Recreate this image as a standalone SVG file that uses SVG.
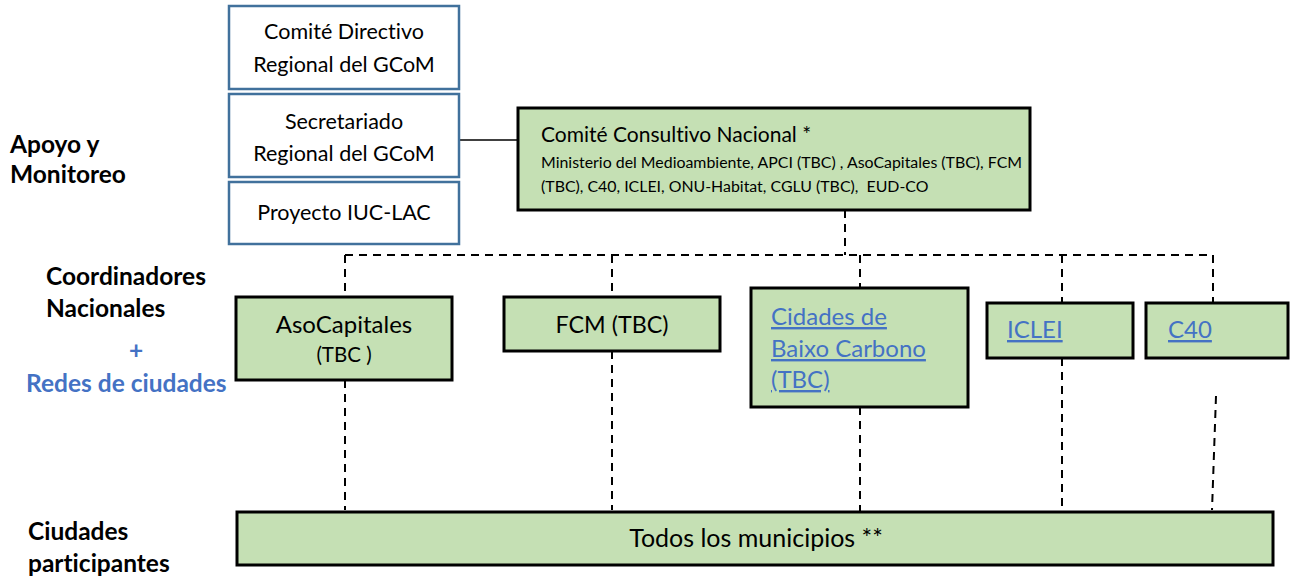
<svg xmlns="http://www.w3.org/2000/svg" width="1292" height="580" viewBox="0 0 1292 580">
<style>
text{font-family:Lato,"Noto Sans",sans-serif;fill:#000;font-variant-ligatures:none}
.lbl{font-weight:bold;font-size:24.5px}
.blue{fill:#4472C4}
.wb{fill:#fff;stroke:#41719C;stroke-width:2.5}
.gb{fill:#C5E0B4;stroke:#000;stroke-width:3}
.t18{font-size:21.5px}
.lnk{fill:#4472C4;text-decoration:underline;font-size:24px}
.dash{fill:none;stroke:#000;stroke-width:2;stroke-dasharray:8 6}
</style>
<rect width="1292" height="580" fill="#fff"/>
<g id="labels">
<text class="lbl" x="10" y="153">Apoyo y</text>
<text class="lbl" x="10" y="183">Monitoreo</text>
<text class="lbl" x="46" y="285">Coordinadores</text>
<text class="lbl" x="46" y="317">Nacionales</text>
<text class="lbl blue" x="136" y="359" text-anchor="middle">+</text>
<text class="lbl blue" x="26" y="392">Redes de ciudades</text>
<text class="lbl" x="28" y="540">Ciudades</text>
<text class="lbl" x="28" y="572">participantes</text>
</g>
<g id="connectors">
<line x1="459" y1="140" x2="518" y2="140" stroke="#000" stroke-width="1.5"/>
<path class="dash" d="M845 210V255"/>
<path class="dash" d="M345 255H1213"/>
<path class="dash" d="M345 255V297M612 255V297M860 255V288M1062 255V303M1213 255V303"/>
<path class="dash" d="M345 380V510M612 351V510M860 407V512M1062 358V515M1216 396L1212 510"/>
</g>
<g id="n-directivo">
<rect class="wb" x="229" y="6" width="230" height="83"/>
<text class="t18" x="344" y="39" text-anchor="middle">Comité Directivo</text>
<text class="t18" x="344" y="72" text-anchor="middle">Regional del GCoM</text>
</g>
<g id="n-secretariado">
<rect class="wb" x="229" y="94" width="230" height="83"/>
<text class="t18" x="344" y="129" text-anchor="middle">Secretariado</text>
<text class="t18" x="344" y="161" text-anchor="middle">Regional del GCoM</text>
</g>
<g id="n-iuc">
<rect class="wb" x="229" y="182" width="230" height="62"/>
<text class="t18" x="344" y="220" text-anchor="middle">Proyecto IUC-LAC</text>
</g>
<g id="n-consultivo">
<rect class="gb" x="518" y="108" width="512" height="102"/>
<text x="541" y="142" font-size="21">Comité Consultivo Nacional *</text>
<text x="541" y="168" font-size="15.9">Ministerio del Medioambiente, APCI (TBC) , AsoCapitales (TBC), FCM</text>
<text x="541" y="192" font-size="15.9" xml:space="preserve">(TBC), C40, ICLEI, ONU-Habitat, CGLU (TBC),  EUD-CO</text>
</g>
<g id="n-asocapitales">
<rect class="gb" x="236" y="297" width="216" height="83"/>
<text x="344" y="333" font-size="24" text-anchor="middle">AsoCapitales</text>
<text x="344" y="362" font-size="20.5" text-anchor="middle">(TBC )</text>
</g>
<g id="n-fcm">
<rect class="gb" x="504" y="297" width="216" height="54"/>
<text x="612" y="333" font-size="23.3" text-anchor="middle">FCM (TBC)</text>
</g>
<g id="n-cidades">
<rect class="gb" x="751" y="288" width="217" height="119"/>
<text class="lnk" x="771" y="325">Cidades de</text>
<text class="lnk" x="771" y="357">Baixo Carbono</text>
<text class="lnk" x="771" y="388">(TBC)</text>
</g>
<g id="n-iclei">
<rect class="gb" x="987" y="303" width="146" height="55"/>
<text class="lnk" x="1007" y="338" font-size="23.3">ICLEI</text>
</g>
<g id="n-c40">
<rect class="gb" x="1146" y="303" width="142" height="55"/>
<text class="lnk" x="1168" y="338" font-size="23.3">C40</text>
</g>
<g id="n-municipios">
<rect class="gb" x="237" y="512" width="1036" height="53"/>
<text x="756" y="547" font-size="25" text-anchor="middle">Todos los municipios **</text>
</g>
</svg>
